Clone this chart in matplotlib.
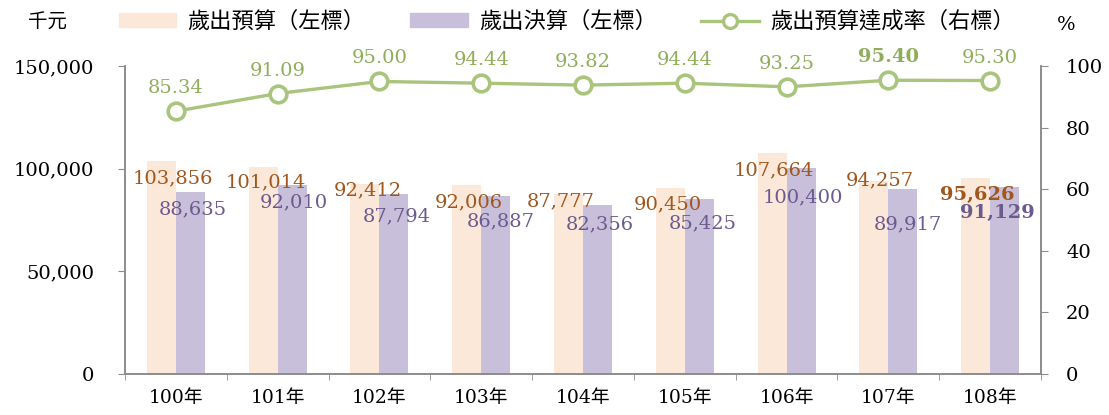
import numpy as np
import matplotlib.pyplot as plt
from matplotlib.patches import Patch
from matplotlib.lines import Line2D
from matplotlib.ticker import FuncFormatter

# 資料
years = ['100年', '101年', '102年', '103年', '104年', '105年', '106年', '107年', '108年']
budget = [103856, 101014, 92412, 92006, 87777, 90450, 107664, 94257, 95626]
actual = [88635, 92010, 87794, 86887, 82356, 85425, 100400, 89917, 91129]
rate = [85.34, 91.09, 95.00, 94.44, 93.82, 94.44, 93.25, 95.40, 95.30]

# 標籤位移 (像素, 相對於柱頂中心)
budget_dx = [12, 3, 3, 2, -8, -2, 2, 6, 2]
budget_dy = [-18, -16, -6, -17, -8, -16, -17, 0, -17]
actual_dx = [2, 2, 3, 5, 2, 3, 2, 5, -7]
actual_dy = [-17, -17, -23, -26, -19, -25, -29, -35, -26]
budget_bold = [False] * 8 + [True]
actual_bold = [False] * 8 + [True]
rate_bold = [False] * 7 + [True, False]

FONT = ['DejaVu Serif', 'Noto Sans CJK TC']
c_budget = '#fce8d8'
c_actual = '#c8bfda'
c_line = '#a9c47c'
c_budget_txt = '#a0561c'
c_actual_txt = '#6a5a8e'
c_rate_txt = '#8fae5a'
c_spine = '#8c8c8c'

fig = plt.figure(figsize=(11.09, 4.15), dpi=100)
ax = fig.add_axes([0.1127, 0.0988, 0.826, 0.742])
ax2 = ax.twinx()

x = np.arange(len(years))
w = 0.285
ax.bar(x - w / 2, budget, w, color=c_budget, zorder=2)
ax.bar(x + w / 2, actual, w, color=c_actual, zorder=2)

ax.set_xlim(-0.5, len(years) - 0.5)
ax.set_ylim(0, 150000)
ax.set_yticks([0, 50000, 100000, 150000])
ax.yaxis.set_major_formatter(FuncFormatter(lambda v, p: f'{int(v):,}'))
ax.set_xticks(x)
ax.set_xticklabels(years)
ax.set_xticks(np.arange(-0.5, len(years)), minor=True)
ax.tick_params(axis='x', which='major', length=0, pad=11)
ax.tick_params(axis='x', which='minor', length=4, color=c_spine, direction='out')
ax.tick_params(axis='y', length=5, color=c_spine, pad=17, labelsize=14)
for lab in ax.get_xticklabels():
    lab.set_family(FONT)
    lab.set_fontsize(13.5)
for lab in ax.get_yticklabels():
    lab.set_family(FONT)

ax2.plot(x, rate, color=c_line, lw=2.4, marker='o', ms=12, mfc='white',
         mec=c_line, mew=2.6, zorder=5)
ax2.set_ylim(0, 100)
ax2.set_yticks(range(0, 101, 20))
ax2.tick_params(axis='y', length=5, color=c_spine, pad=13, labelsize=14)
for lab in ax2.get_yticklabels():
    lab.set_family(FONT)

for a in (ax, ax2):
    a.spines['top'].set_visible(False)
    for s in ('left', 'right', 'bottom'):
        a.spines[s].set_color(c_spine)
        a.spines[s].set_linewidth(1.2)

px = 0.72  # 像素轉點
for i in range(len(years)):
    ax.annotate(f'{budget[i]:,}', (x[i] - w / 2, budget[i]),
                xytext=(budget_dx[i] * px, budget_dy[i] * px), textcoords='offset points',
                ha='center', va='center', color=c_budget_txt, fontsize=14, family=FONT,
                fontweight='bold' if budget_bold[i] else 'normal', zorder=6)
    ax.annotate(f'{actual[i]:,}', (x[i] + w / 2, actual[i]),
                xytext=(actual_dx[i] * px, actual_dy[i] * px), textcoords='offset points',
                ha='center', va='center', color=c_actual_txt, fontsize=14, family=FONT,
                fontweight='bold' if actual_bold[i] else 'normal', zorder=6)
    ax2.annotate(f'{rate[i]:.2f}', (x[i], rate[i]), xytext=(0, 23 * px),
                 textcoords='offset points', ha='center', va='center',
                 color=c_rate_txt, fontsize=14, family=FONT,
                 fontweight='bold' if rate_bold[i] else 'normal')

handles = [Patch(color=c_budget), Patch(color=c_actual),
           Line2D([], [], color=c_line, lw=2.4, marker='o', ms=10, mfc='white',
                  mec=c_line, mew=2.4)]
labels = ['歲出預算（左標）', '歲出決算（左標）', '歲出預算達成率（右標）']
fig.legend(handles, labels, loc='center', bbox_to_anchor=(0.511, 0.947), ncol=3,
           frameon=False, prop={'family': FONT, 'size': 16}, handlelength=2.6,
           handleheight=0.55, columnspacing=2.0, handletextpad=0.5)
fig.text(0.0424, 0.945, '千元', ha='center', va='center', family=FONT, fontsize=14)
fig.text(0.961, 0.94, '%', ha='center', va='center', family=FONT, fontsize=14)

fig.savefig('out.png', dpi=100)
